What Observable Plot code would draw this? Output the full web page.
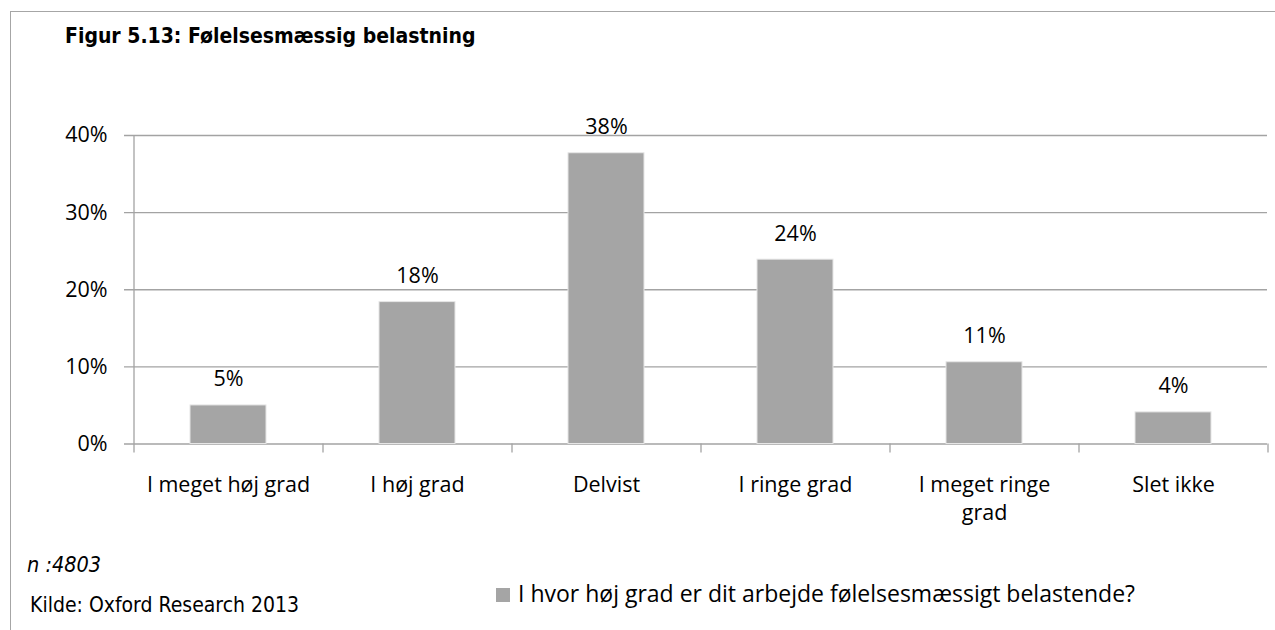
<!DOCTYPE html>
<html>
<head>
<meta charset="utf-8">
<script src="https://cdn.jsdelivr.net/npm/d3@7"></script>
<script src="https://cdn.jsdelivr.net/npm/@observablehq/plot@0.6"></script>
<style>
  html, body { margin: 0; padding: 0; background: #fff; }
  #wrap { position: relative; width: 1275px; height: 630px; overflow: hidden; background: #fff; }
  #frame { position: absolute; left: 10px; top: 11px; width: 1300px; height: 700px;
           border-left: 1.5px solid #a6a6a6; border-top: 1.5px solid #a6a6a6; }
  .note { position: absolute; font-family: "DejaVu Sans Condensed", "DejaVu Sans", sans-serif;
          line-height: 1; color: #000; white-space: nowrap; }
  #title { left: 65px; top: 25.5px; font-size: 21px; font-weight: bold; }
  #n { left: 27px; top: 553.5px; font-size: 21.5px; font-style: italic; }
  #kilde { left: 30px; top: 595px; font-size: 21px; }
  #legend { position: absolute; left: 496px; top: 581.5px; font-family: "Open Sans", sans-serif;
            font-size: 23px; line-height: 1; white-space: nowrap; color: #000; }
  #legend .sw { position: absolute; left: 0; top: 6.5px; width: 14px; height: 14px; background: #a5a5a5; }
  #legend .lab { position: absolute; left: 22px; top: 0; }
  svg { position: absolute; left: 0; top: 0; }
</style>
</head>
<body>
<div id="wrap">
  <div id="frame"></div>
</div>
<script>
const titleText = "Figur 5.13: Følelsesmæssig belastning";
const nText = "n :4803";
const sourceText = "Kilde: Oxford Research 2013";
const seriesName = "I hvor høj grad er dit arbejde følelsesmæssigt belastende?";

const categories = ["I meget høj grad", "I høj grad", "Delvist", "I ringe grad", "I meget ringe grad", "Slet ikke"];
const tickLabels = ["I meget høj grad", "I høj grad", "Delvist", "I ringe grad", "I meget ringe\ngrad", "Slet ikke"];
const values = [5.0, 18.4, 37.7, 23.9, 10.6, 4.1];
const valueLabels = ["5%", "18%", "38%", "24%", "11%", "4%"];
const yTicks = [0, 10, 20, 30, 40];

const data = categories.map((c, i) => ({cat: c, value: values[i], label: valueLabels[i]}));

const W = 1275, H = 630;
const mL = 133, mR = 8, mT = 135, mB = 186.5;
const step = (W - mL - mR) / categories.length;
const gridColor = "#a3a3a3";
const labelFont = "'Open Sans', sans-serif";

const chart = Plot.plot({
  width: W,
  height: H,
  marginLeft: mL,
  marginRight: mR,
  marginTop: mT,
  marginBottom: mB,
  style: {fontFamily: labelFont, fontSize: "21px", color: "#000", background: "transparent", overflow: "visible"},
  x: {domain: categories, paddingInner: 0.6, paddingOuter: 0.3, axis: null, label: null},
  y: {domain: [0, 40], axis: null, label: null},
  marks: [
    Plot.ruleY(yTicks, {stroke: gridColor, strokeWidth: 1.3, insetLeft: -9}),
    Plot.ruleX([categories[0]], {x: d => d, y1: 40, y2: 0, insetBottom: -9, dx: -step / 2, stroke: gridColor, strokeWidth: 1.3}),
    Plot.ruleX(categories.slice(1), {x: d => d, y1: 0, y2: 0, insetBottom: -9, dx: -step / 2, stroke: gridColor, strokeWidth: 1.3}),
    Plot.ruleX([categories[categories.length - 1]], {x: d => d, y1: 0, y2: 0, insetBottom: -9, dx: step / 2, stroke: gridColor, strokeWidth: 1.3}),
    Plot.barY(data, {x: "cat", y: "value", fill: "#a5a5a5", stroke: "#e6e6e6", strokeWidth: 1}),
    Plot.text(data, {x: "cat", y: "value", text: "label", dy: -26, lineAnchor: "middle", fontSize: 21.5, fill: "#000"}),
    Plot.axisY({ticks: yTicks, tickFormat: d => d + "%", tickSize: 0, tickPadding: 26, fontSize: 21.5, stroke: "none", label: null}),
    Plot.axisX({tickFormat: d => tickLabels[categories.indexOf(d)], tickSize: 0, tickPadding: 28.5, fontSize: 21.5, lineHeight: 1.3, stroke: "none", label: null})
  ]
});

const wrap = document.getElementById("wrap");
wrap.appendChild(chart);

function addNote(id, text) {
  const d = document.createElement("div");
  d.className = "note";
  d.id = id;
  d.textContent = text;
  wrap.appendChild(d);
}
addNote("title", titleText);
addNote("n", nText);
addNote("kilde", sourceText);

const lg = document.createElement("div");
lg.id = "legend";
const sw = document.createElement("div");
sw.className = "sw";
const lab = document.createElement("div");
lab.className = "lab";
lab.textContent = seriesName;
lg.appendChild(sw);
lg.appendChild(lab);
wrap.appendChild(lg);
</script>
</body>
</html>
